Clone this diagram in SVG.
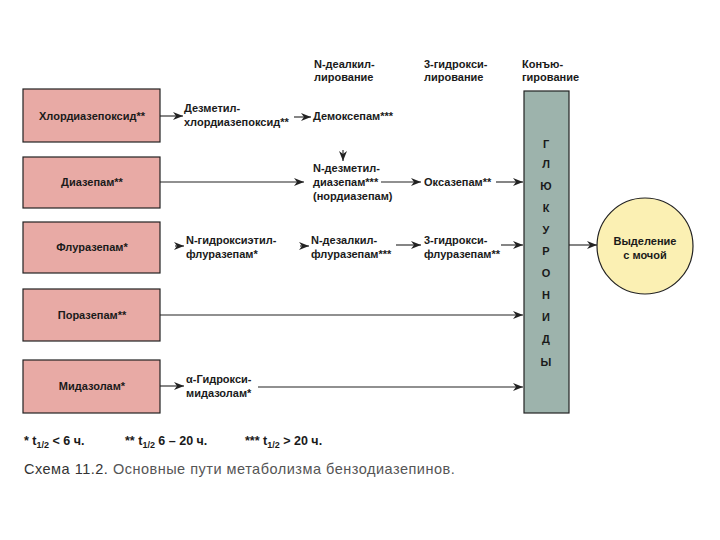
<svg xmlns="http://www.w3.org/2000/svg" width="720" height="540" viewBox="0 0 720 540">
<defs>
<marker id="ah" viewBox="0 0 10 8" refX="10" refY="4" markerWidth="10" markerHeight="8" markerUnits="userSpaceOnUse" orient="auto">
<path d="M0,0 L10,4 L0,8 L3,4 z" fill="#222"/>
</marker>
<style>
.box{fill:#e8aaa5;stroke:#222;stroke-width:1.2}
.t{font-family:"Liberation Sans",Arial,sans-serif;font-size:11px;font-weight:bold;fill:#1a1a1a}
.c{text-anchor:middle}
.ln{stroke:#222;stroke-width:1.1;fill:none}
.ar{stroke:#222;stroke-width:1.1;fill:none;marker-end:url(#ah)}
</style>
</defs>
<rect width="720" height="540" fill="#fff"/>

<g id="headers">
<text class="t" x="314" y="68">N-деалкил-</text>
<text class="t" x="314" y="81">лирование</text>
<text class="t" x="424" y="68">3-гидрокси-</text>
<text class="t" x="424" y="81">лирование</text>
<text class="t" x="522" y="68">Конъю-</text>
<text class="t" x="522" y="81">гирование</text>
</g>

<g id="chlordiazepoxide"><rect class="box" x="23" y="89" width="137" height="53"/><text class="t c" x="92" y="120">Хлордиазепоксид**</text></g>
<g id="diazepam"><rect class="box" x="23" y="157" width="137" height="51"/><text class="t c" x="92" y="186">Диазепам**</text></g>
<g id="flurazepam"><rect class="box" x="23" y="222" width="137" height="51"/><text class="t c" x="92" y="251">Флуразепам*</text></g>
<g id="lorazepam"><rect class="box" x="23" y="289" width="137" height="52"/><text class="t c" x="92" y="319">Поразепам**</text></g>
<g id="midazolam"><rect class="box" x="23" y="360" width="137" height="53"/><text class="t c" x="92" y="390">Мидазолам*</text></g>

<g id="desmethylchlordiazepoxide"><text class="t" x="184" y="112">Дезметил-</text><text class="t" x="184" y="126">хлордиазепоксид**</text></g>
<g id="demoxepam"><text class="t" x="313" y="120">Демоксепам***</text></g>
<g id="nordiazepam"><text class="t" x="313" y="172">N-дезметил-</text><text class="t" x="313" y="186">диазепам***</text><text class="t" x="313" y="200">(нордиазепам)</text></g>
<g id="oxazepam"><text class="t" x="424" y="186">Оксазепам**</text></g>
<g id="hydroxyethylflurazepam"><text class="t" x="186" y="244">N-гидроксиэтил-</text><text class="t" x="186" y="258">флуразепам*</text></g>
<g id="desalkylflurazepam"><text class="t" x="311" y="244">N-дезалкил-</text><text class="t" x="311" y="258">флуразепам***</text></g>
<g id="hydroxyflurazepam"><text class="t" x="424" y="244">3-гидрокси-</text><text class="t" x="424" y="258">флуразепам**</text></g>
<g id="hydroxymidazolam"><text class="t" x="186" y="383">α-Гидрокси-</text><text class="t" x="186" y="397">мидазолам*</text></g>

<g id="glucuronides">
<rect x="524" y="91" width="45" height="322" fill="#9db3ac" stroke="#222" stroke-width="1.2"/>
<text class="t c" x="546" y="148">Г</text>
<text class="t c" x="546" y="168">Л</text>
<text class="t c" x="546" y="190">Ю</text>
<text class="t c" x="546" y="212">К</text>
<text class="t c" x="546" y="234">У</text>
<text class="t c" x="546" y="255">Р</text>
<text class="t c" x="546" y="277">О</text>
<text class="t c" x="546" y="299">Н</text>
<text class="t c" x="546" y="321">И</text>
<text class="t c" x="546" y="343">Д</text>
<text class="t c" x="546" y="366">Ы</text>
</g>

<g id="excretion">
<circle cx="645" cy="246" r="48" fill="#fbf0b3" stroke="#222" stroke-width="1.2"/>
<text class="t c" x="645" y="245">Выделение</text>
<text class="t c" x="645" y="259">с мочой</text>
</g>

<g id="connectors">
<line class="ar" x1="160" y1="116" x2="183" y2="116"/>
<line class="ar" x1="294" y1="117" x2="311" y2="117"/>
<line class="ar" x1="160" y1="182" x2="304" y2="182"/>
<line class="ar" x1="343" y1="150" x2="343" y2="161"/>
<line class="ar" x1="381" y1="182" x2="421" y2="182"/>
<line class="ar" x1="496" y1="182" x2="523" y2="182"/>
<line class="ar" x1="175" y1="246" x2="184" y2="246"/>
<line class="ar" x1="300" y1="246" x2="309" y2="246"/>
<line class="ar" x1="396" y1="245" x2="421" y2="245"/>
<line class="ar" x1="501" y1="245" x2="523" y2="245"/>
<line class="ar" x1="569" y1="245" x2="597" y2="245"/>
<line class="ar" x1="160" y1="315" x2="523" y2="315"/>
<line class="ar" x1="160" y1="386" x2="184" y2="386"/>
<line class="ar" x1="258" y1="387" x2="523" y2="387"/>
</g>

<g id="footnotes" font-family="'Liberation Sans',Arial,sans-serif" font-size="12.5" font-weight="bold" fill="#1a1a1a">
<text x="24" y="445">* t<tspan font-size="9" dy="3">1/2</tspan><tspan dy="-3"> &lt; 6 ч.</tspan></text>
<text x="125" y="445">** t<tspan font-size="9" dy="3">1/2</tspan><tspan dy="-3"> 6 – 20 ч.</tspan></text>
<text x="245" y="445">*** t<tspan font-size="9" dy="3">1/2</tspan><tspan dy="-3"> &gt; 20 ч.</tspan></text>
</g>

<g id="caption" font-family="'Liberation Sans',Arial,sans-serif" font-size="14.5" letter-spacing="0.5">
<text x="24" y="474" fill="#555"><tspan fill="#333">Схема 11.2.</tspan> Основные пути метаболизма бензодиазепинов.</text>
</g>
</svg>
